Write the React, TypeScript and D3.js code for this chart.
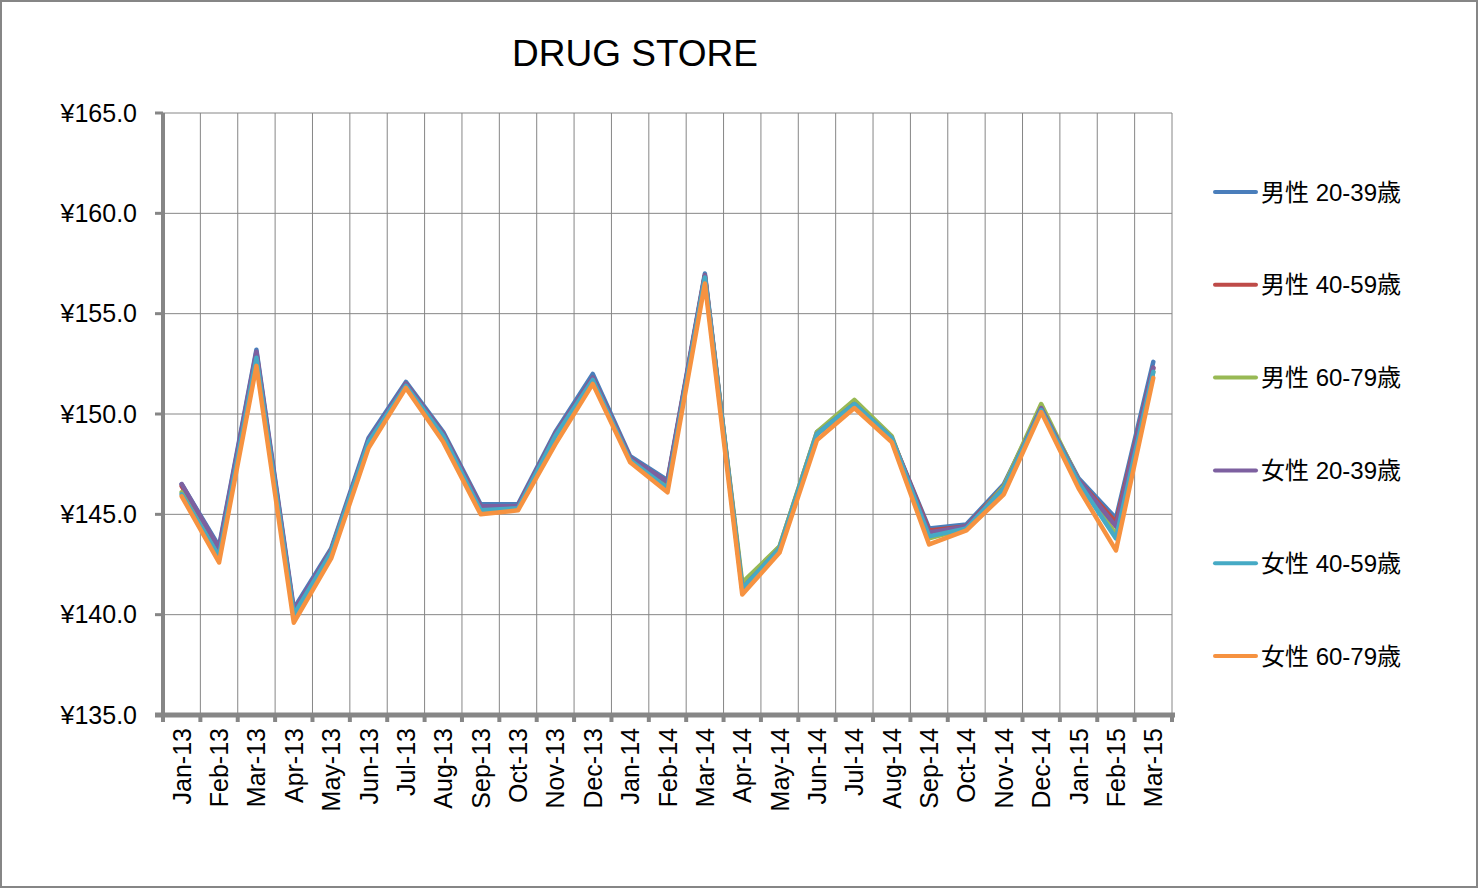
import React from "react";
import * as d3 from "d3";

const months = ["Jan-13","Feb-13","Mar-13","Apr-13","May-13","Jun-13","Jul-13","Aug-13","Sep-13","Oct-13","Nov-13","Dec-13","Jan-14","Feb-14","Mar-14","Apr-14","May-14","Jun-14","Jul-14","Aug-14","Sep-14","Oct-14","Nov-14","Dec-14","Jan-15","Feb-15","Mar-15"];

const seriesNames = ["男性 20-39歳","男性 40-59歳","男性 60-79歳","女性 20-39歳","女性 40-59歳","女性 60-79歳"];
const seriesColors = ["#4A7EBB","#BE4B48","#98B954","#7D60A0","#46AAC5","#F69240"];

const male2039 = [146.5,143.4,153.2,140.3,143.3,148.8,151.6,149.1,145.5,145.5,149.1,152.0,147.9,146.7,157.0,141.4,143.4,149.1,150.5,148.8,144.3,144.5,146.5,150.3,146.8,144.8,152.6];
const male4059 = [146.4,143.2,153.0,140.1,143.2,148.6,151.5,149.0,145.4,145.4,149.0,151.8,147.8,146.6,156.9,141.3,143.3,149.0,150.5,148.8,144.2,144.4,146.4,150.3,146.7,144.6,152.3];
const male6079 = [146.1,143.0,152.8,140.0,143.2,148.6,151.4,148.9,145.2,145.3,148.9,151.7,147.7,146.4,156.8,141.6,143.4,149.1,150.7,148.9,143.8,144.3,146.4,150.5,146.7,144.0,152.1];
const female2039 = [146.5,143.3,153.1,140.2,143.2,148.7,151.5,149.0,145.4,145.4,149.0,151.8,147.8,146.6,156.9,141.3,143.3,149.0,150.5,148.8,144.1,144.4,146.3,150.3,146.7,144.4,152.3];
const female4059 = [146.0,142.9,152.8,140.0,143.1,148.6,151.4,148.9,145.2,145.3,148.9,151.7,147.7,146.3,156.8,141.3,143.3,149.0,150.5,148.8,143.9,144.3,146.3,150.2,146.6,143.8,152.1];
const female6079 = [145.9,142.6,152.4,139.6,142.8,148.3,151.3,148.6,145.0,145.2,148.5,151.5,147.6,146.1,156.5,141.0,143.1,148.7,150.3,148.6,143.5,144.2,146.0,150.1,146.3,143.2,151.8];

const seriesValues = [male2039, male4059, male6079, female2039, female4059, female6079];
const yTicks = [135, 140, 145, 150, 155, 160, 165];

const W = 1478, H = 888;
const L = 163, R = 1172, T = 113, B = 715;
const FONT = "'Liberation Sans', Arial, sans-serif";

export default function App() {
  const x = d3.scaleBand<string>().domain(months).range([L, R]).padding(0);
  const y = d3.scaleLinear().domain([135, 165]).range([B, T]);
  const line = d3.line<number>()
    .x((_, i) => (x(months[i]) as number) + x.bandwidth() / 2)
    .y((d) => y(d));
  const boundaries = d3.range(months.length + 1).map((i) => L + i * x.bandwidth());

  return (
    <svg width={W} height={H} style={{ position: "absolute", left: 0, top: 0, background: "#fff" }} fontFamily={FONT}>
      <rect x={1} y={1} width={W - 2} height={H - 2} fill="#fff" stroke="#868686" strokeWidth={2} />
      <text x={635} y={66} textAnchor="middle" fontSize={37} fill="#000">DRUG STORE</text>
      {yTicks.map((t) => (
        <line key={"h" + t} x1={L} x2={R} y1={y(t)} y2={y(t)} stroke="#868686" strokeWidth={1} />
      ))}
      {boundaries.slice(1).map((bx, i) => (
        <line key={"v" + i} x1={bx} x2={bx} y1={T} y2={B} stroke="#868686" strokeWidth={1} />
      ))}
      <line x1={L} x2={L} y1={T} y2={B + 2} stroke="#868686" strokeWidth={4} />
      {yTicks.map((t) => (
        <g key={"yt" + t}>
          <line x1={L - 8} x2={L} y1={y(t)} y2={y(t)} stroke="#868686" strokeWidth={3} />
          <text x={137} y={y(t) + 8.5} textAnchor="end" fontSize={25} fill="#000">{"¥" + t.toFixed(1)}</text>
        </g>
      ))}
      <line x1={L - 8} x2={R + 3} y1={B} y2={B} stroke="#868686" strokeWidth={5} />
      {boundaries.map((bx, i) => (
        <line key={"xt" + i} x1={bx} x2={bx} y1={B} y2={B + 7} stroke="#868686" strokeWidth={4} />
      ))}
      {months.map((m) => {
        const cx = (x(m) as number) + x.bandwidth() / 2 + 9;
        return (
          <text key={m} transform={`translate(${cx},${B + 13}) rotate(-90)`} textAnchor="end" fontSize={25} fill="#000">{m}</text>
        );
      })}
      {seriesValues.map((vals, si) => (
        <path key={"s" + si} d={line(vals) || ""} fill="none" stroke={seriesColors[si]} strokeWidth={4.5} strokeLinejoin="round" strokeLinecap="round" />
      ))}
      {seriesNames.map((n, i) => {
        const ly = 192 + i * 92.8;
        return (
          <g key={"lg" + i}>
            <line x1={1215} x2={1256} y1={ly} y2={ly} stroke={seriesColors[i]} strokeWidth={4} strokeLinecap="round" />
            <text x={1261} y={ly + 8.5} fontSize={24} fill="#000" fontFamily={"'Liberation Sans', 'Noto Sans CJK JP', sans-serif"}>{n}</text>
          </g>
        );
      })}
    </svg>
  );
}
